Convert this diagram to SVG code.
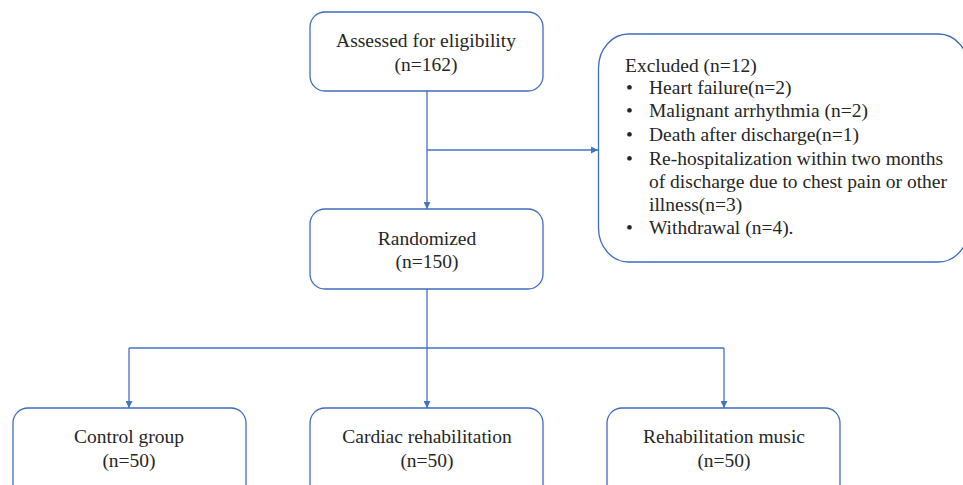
<svg xmlns="http://www.w3.org/2000/svg" width="963" height="485" viewBox="0 0 963 485">
<style>
.box{fill:#fff;stroke:#3f6dbd;stroke-width:1.3}
.t{font-family:'Liberation Serif',serif;font-size:19.5px;fill:#262626}
.c{text-anchor:middle}
.ln{fill:none;stroke:#4472c4;stroke-width:1.3}
</style>
<defs>
<marker id="ah" viewBox="0 0 10 10" refX="10" refY="5" markerWidth="7" markerHeight="7" markerUnits="userSpaceOnUse" orient="auto">
<path d="M0,0 L10,5 L0,10 z" fill="#4472c4"/>
</marker>
</defs>
<rect width="963" height="485" fill="#fff"/>
<g id="connectors">
<path class="ln" d="M427,91 V209" marker-end="url(#ah)"/>
<path class="ln" d="M427,150 H598" marker-end="url(#ah)"/>
<path class="ln" d="M427,289 V348"/>
<path class="ln" d="M129,348 H724"/>
<path class="ln" d="M129,348 V408" marker-end="url(#ah)"/>
<path class="ln" d="M427,348 V408" marker-end="url(#ah)"/>
<path class="ln" d="M724,348 V408" marker-end="url(#ah)"/>
</g>
<g id="assessed">
<rect class="box" x="310" y="12" width="233" height="79" rx="15"/>
<text class="t c" x="426" y="47">Assessed for eligibility</text>
<text class="t c" x="426" y="71">(n=162)</text>
</g>
<g id="excluded">
<rect class="box" x="598.5" y="34" width="370" height="228" rx="30" ry="34"/>
<text class="t" x="625" y="72">Excluded (n=12)</text>
<text class="t" x="626" y="94">•</text><text class="t" x="649" y="94">Heart failure(n=2)</text>
<text class="t" x="626" y="117">•</text><text class="t" x="649" y="117">Malignant arrhythmia (n=2)</text>
<text class="t" x="626" y="141">•</text><text class="t" x="649" y="141">Death after discharge(n=1)</text>
<text class="t" x="626" y="165">•</text><text class="t" x="649" y="165">Re-hospitalization within two months</text>
<text class="t" x="649" y="188">of discharge due to chest pain or other</text>
<text class="t" x="649" y="211">illness(n=3)</text>
<text class="t" x="626" y="234">•</text><text class="t" x="649" y="234">Withdrawal (n=4).</text>
</g>
<g id="randomized">
<rect class="box" x="310" y="209" width="233" height="80" rx="15"/>
<text class="t c" x="427" y="245">Randomized</text>
<text class="t c" x="427" y="268">(n=150)</text>
</g>
<g id="control">
<rect class="box" x="13" y="408" width="233" height="100" rx="15"/>
<text class="t c" x="129" y="443">Control group</text>
<text class="t c" x="129" y="467">(n=50)</text>
</g>
<g id="cardiac">
<rect class="box" x="310" y="408" width="233" height="100" rx="15"/>
<text class="t c" x="427" y="443">Cardiac rehabilitation</text>
<text class="t c" x="427" y="467">(n=50)</text>
</g>
<g id="music">
<rect class="box" x="607" y="408" width="233" height="100" rx="15"/>
<text class="t c" x="724" y="443">Rehabilitation music</text>
<text class="t c" x="724" y="467">(n=50)</text>
</g>
</svg>
